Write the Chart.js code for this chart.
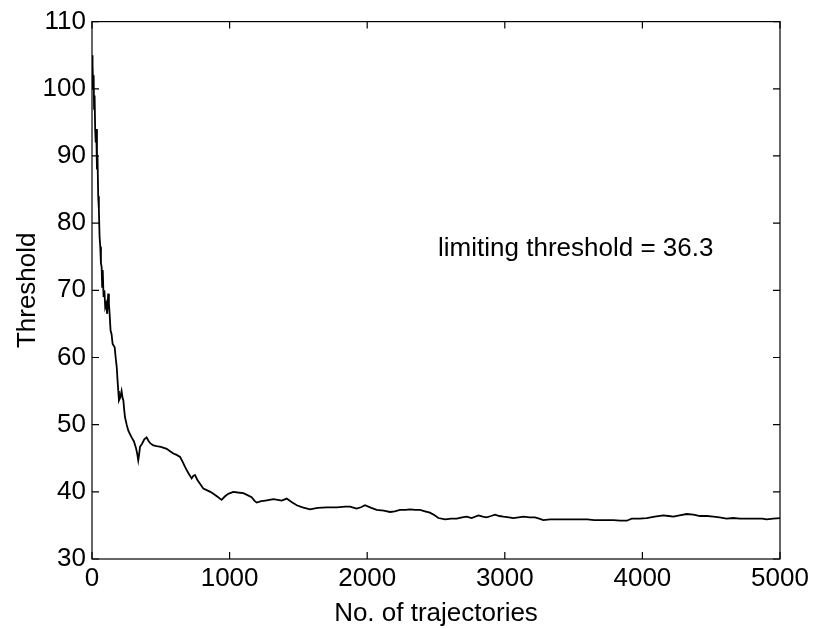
<!DOCTYPE html>
<html>
<head>
<meta charset="utf-8">
<script src="https://cdn.jsdelivr.net/npm/chart.js@4"></script>
<style>
  html, body { margin: 0; padding: 0; background: #fff; }
  #wrap { width: 815px; height: 629px; }
</style>
</head>
<body>
<div id="wrap"><canvas id="thresholdChart" width="815" height="629"></canvas></div>
<script>
const trajectories = [0, 2, 4, 6, 9, 12, 15, 19, 23, 27, 31, 36, 40, 45, 50, 55, 60, 65, 70, 74, 78, 84, 90, 96, 103, 110, 118, 123, 128, 135, 142, 150, 157, 165, 172, 180, 186, 191, 196, 205, 215, 222, 228, 235, 240, 252, 264, 276, 288, 305, 320, 330, 336, 342, 349, 365, 380, 397, 410, 425, 446, 470, 500, 543, 570, 591, 615, 640, 658, 676, 700, 724, 737, 749, 765, 785, 809, 830, 860, 882, 910, 942, 965, 990, 1027, 1060, 1100, 1130, 1160, 1180, 1197, 1230, 1260, 1290, 1318, 1350, 1379, 1415, 1450, 1488, 1530, 1584, 1640, 1705, 1780, 1840, 1875, 1923, 1955, 1984, 2030, 2069, 2120, 2166, 2200, 2238, 2280, 2311, 2350, 2384, 2420, 2456, 2490, 2517, 2566, 2610, 2650, 2690, 2723, 2759, 2808, 2840, 2868, 2900, 2929, 2960, 2990, 3030, 3062, 3100, 3135, 3180, 3220, 3250, 3280, 3330, 3377, 3420, 3450, 3490, 3535, 3600, 3650, 3692, 3740, 3789, 3840, 3886, 3922, 3980, 4031, 4090, 4152, 4190, 4225, 4270, 4322, 4370, 4419, 4470, 4516, 4560, 4612, 4660, 4709, 4770, 4830, 4870, 4903, 4950, 5000];
const thresholds = [100, 105, 101, 103.5, 100, 102, 97, 99, 94, 92, 94, 88, 90, 84, 82, 78, 76.5, 74, 73.5, 70.5, 73, 69, 70, 67.5, 68, 66.5, 69.5, 68, 66.5, 64, 63.5, 62, 61.8, 61.5, 60, 58.5, 56.5, 55, 53.6, 54, 55, 54, 53.6, 52, 51.1, 50, 49.1, 48.6, 48.1, 47.5, 46.5, 45.5, 44.7, 45.5, 46.7, 47.2, 47.8, 48.1, 47.6, 47.2, 46.9, 46.8, 46.7, 46.4, 46.0, 45.7, 45.5, 45.2, 44.5, 43.7, 42.8, 42.0, 42.4, 42.5, 41.8, 41.2, 40.5, 40.3, 40.0, 39.7, 39.3, 38.8, 39.3, 39.7, 40.0, 39.9, 39.8, 39.5, 39.2, 38.7, 38.4, 38.6, 38.7, 38.8, 38.9, 38.8, 38.7, 39.0, 38.5, 38.0, 37.7, 37.4, 37.6, 37.7, 37.7, 37.8, 37.8, 37.5, 37.7, 38.0, 37.6, 37.3, 37.2, 37.0, 37.1, 37.3, 37.3, 37.4, 37.3, 37.3, 37.1, 36.9, 36.5, 36.1, 35.9, 36.0, 36.0, 36.2, 36.3, 36.1, 36.5, 36.3, 36.2, 36.4, 36.6, 36.4, 36.3, 36.2, 36.1, 36.2, 36.3, 36.2, 36.2, 36.0, 35.8, 35.9, 35.9, 35.9, 35.9, 35.9, 35.9, 35.9, 35.8, 35.8, 35.8, 35.8, 35.7, 35.7, 36.0, 36.0, 36.1, 36.3, 36.5, 36.4, 36.3, 36.5, 36.7, 36.6, 36.4, 36.4, 36.3, 36.2, 36.0, 36.1, 36.0, 36.0, 36.0, 36.0, 35.9, 36.0, 36.1];

const xTicks = [0, 1000, 2000, 3000, 4000, 5000];
const yTicks = [30, 40, 50, 60, 70, 80, 90, 100, 110];

const noteText = 'limiting threshold = 36.3';
const notePos = { x: 2515, y: 76.1 };

const FONT = '"Liberation Sans", Arial, Helvetica, sans-serif';
const FSIZE = 26;

// matlab style box with inward ticks on all four sides
const boxPlugin = {
    id: 'boxPlugin',
    afterDatasetsDraw(chart) {
        const { ctx, chartArea: a, scales } = chart;
        ctx.save();
        ctx.strokeStyle = '#000';
        ctx.lineWidth = 1.2;
        ctx.strokeRect(a.left, a.top, a.right - a.left, a.bottom - a.top);
        const len = 7;
        ctx.beginPath();
        xTicks.forEach(v => {
            const px = scales.x.getPixelForValue(v);
            ctx.moveTo(px, a.bottom); ctx.lineTo(px, a.bottom - len);
            ctx.moveTo(px, a.top); ctx.lineTo(px, a.top + len);
        });
        yTicks.forEach(v => {
            const py = scales.y.getPixelForValue(v);
            ctx.moveTo(a.left, py); ctx.lineTo(a.left + len, py);
            ctx.moveTo(a.right, py); ctx.lineTo(a.right - len, py);
        });
        ctx.stroke();

        ctx.fillStyle = '#000';
        ctx.font = FSIZE + 'px ' + FONT;
        ctx.textAlign = 'left';
        ctx.textBaseline = 'middle';
        ctx.fillText(noteText, scales.x.getPixelForValue(notePos.x), scales.y.getPixelForValue(notePos.y));
        ctx.restore();
    }
};

new Chart(document.getElementById('thresholdChart').getContext('2d'), {
    type: 'line',
    data: {
        datasets: [{
            data: trajectories.map((t, i) => ({ x: t, y: thresholds[i] })),
            borderColor: '#000',
            borderWidth: 1.8,
            pointRadius: 0,
            tension: 0,
            fill: false
        }]
    },
    options: {
        responsive: false,
        animation: false,
        layout: { padding: { top: 20, right: 35, left: 0, bottom: 0 } },
        plugins: {
            legend: { display: false },
            tooltip: { enabled: false }
        },
        scales: {
            x: {
                type: 'linear',
                min: 0,
                max: 5000,
                afterBuildTicks: scale => { scale.ticks = xTicks.map(v => ({ value: v })); },
                afterFit: scale => { scale.height = 70; },
                grid: { display: false, drawTicks: false },
                border: { display: false },
                ticks: {
                    color: '#000',
                    padding: 4,
                    maxRotation: 0,
                    font: { family: FONT, size: FSIZE },
                    callback: v => String(v)
                },
                title: {
                    display: true,
                    text: 'No. of trajectories',
                    color: '#000',
                    padding: { top: -12, bottom: 0 },
                    font: { family: FONT, size: FSIZE }
                }
            },
            y: {
                min: 30,
                max: 110,
                afterBuildTicks: scale => { scale.ticks = yTicks.map(v => ({ value: v })); },
                afterFit: scale => { scale.width = 92; },
                grid: { display: false, drawTicks: false },
                border: { display: false },
                ticks: {
                    color: '#000',
                    padding: 6,
                    font: { family: FONT, size: FSIZE },
                    callback: v => String(v)
                },
                title: {
                    display: true,
                    text: 'Threshold',
                    color: '#000',
                    padding: { top: 12, bottom: 0 },
                    font: { family: FONT, size: FSIZE }
                }
            }
        }
    },
    plugins: [boxPlugin]
});
</script>
</body>
</html>
